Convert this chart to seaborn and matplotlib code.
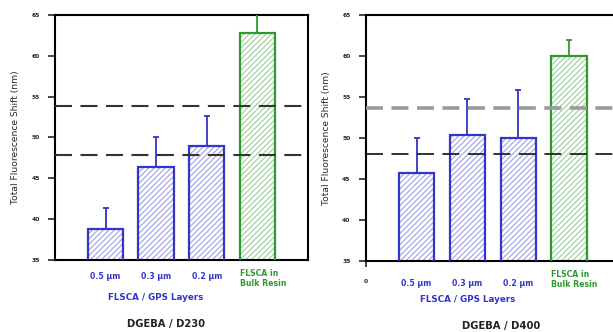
import numpy as np
import pandas as pd
import matplotlib
matplotlib.use("Agg")
import matplotlib.pyplot as plt
import matplotlib.transforms as mtransforms
import seaborn as sns

# values
categories = ["0.5 µm", "0.3 µm", "0.2 µm", "FLSCA in\nBulk Resin"]
d230_shift = [38.8, 46.4, 49.0, 62.8]
d230_err = [2.6, 3.6, 3.6, 2.6]
d400_shift = [45.7, 50.4, 50.0, 60.0]
d400_err = [4.3, 4.4, 5.8, 2.0]
d230_lines = [53.8, 47.85]
d400_lines = [53.7, 48.0]
yticks = [35, 40, 45, 50, 55, 60, 65]

BLUE = "#3434c8"
GREEN = "#2e9a2e"
HATCH_BLUE = "#a0a0e6"
HATCH_GREEN = "#98d098"

sns.set_style("white")
plt.rcParams["font.family"] = ["DejaVu Sans"]
plt.rcParams["font.weight"] = "bold"
plt.rcParams["hatch.linewidth"] = 0.8


def draw_panel(ax, values, errs, lines, line_styles, zero_tick=False):
    df = pd.DataFrame({"layer": categories, "shift": values})
    edge_cols = [BLUE, BLUE, BLUE, GREEN]
    hatch_cols = [HATCH_BLUE, HATCH_BLUE, HATCH_BLUE, HATCH_GREEN]

    # hatched fill
    sns.barplot(data=df, x="layer", y="shift", hue="layer", palette=["white"] * 4,
                legend=False, width=0.7, ax=ax, zorder=2)
    for patch, hc in zip(ax.patches, hatch_cols):
        patch.set_hatch("//////")
        patch.set_edgecolor(hc)
        patch.set_linewidth(0)
    # outline
    n = len(ax.patches)
    sns.barplot(data=df, x="layer", y="shift", hue="layer", palette=["white"] * 4,
                legend=False, width=0.7, ax=ax, zorder=3)
    for patch, ec in zip(ax.patches[n:], edge_cols):
        patch.set_facecolor("none")
        patch.set_edgecolor(ec)
        patch.set_linewidth(1.6)

    for i, (v, e, c) in enumerate(zip(values, errs, edge_cols)):
        ax.errorbar(i, v, yerr=[[0], [e]], color=c, lw=1.3, capsize=2.5,
                    capthick=1.3, zorder=4)

    for y, (col, lw) in zip(lines, line_styles):
        ax.axhline(y, color=col, lw=lw, dashes=(17 / (lw * 1.39), 8.5 / (lw * 1.39)),
                   zorder=5)

    ax.set_ylim(35, 65)
    ax.set_xlim(-1, 4)
    ax.set_yticks(yticks)
    ax.set_yticklabels([str(t) for t in yticks], fontsize=4.3)
    tick_labels = categories[:3] + [""]
    if zero_tick:
        ax.set_xticks([-1, 0, 1, 2, 3])
        ax.set_xticklabels(["0"] + tick_labels, fontsize=5.6)
    else:
        ax.set_xticks([0, 1, 2, 3])
        ax.set_xticklabels(tick_labels, fontsize=5.6)
    ax.tick_params(axis="y", direction="out", length=5, width=1.2, pad=6, left=True)
    ax.tick_params(axis="x", direction="out", length=0, pad=9)
    if zero_tick:
        ax.tick_params(axis="x", length=4, width=1.2, bottom=True)
        for t in ax.xaxis.get_major_ticks()[1:]:
            t.tick1line.set_visible(False)
        ax.get_xticklabels()[0].set_fontsize(4.3)
    for lab in ax.get_xticklabels()[-4:]:
        lab.set_color(BLUE)
    ax.set_xlabel("")
    ax.set_ylabel("Total Fluorescence Shift (nm)", fontsize=6.6, labelpad=8)
    for s in ax.spines.values():
        s.set_visible(True)
        s.set_color("black")
        s.set_linewidth(1.5)

    trans = mtransforms.blended_transform_factory(ax.transData, ax.transAxes)
    # bulk resin label, left aligned with its bar
    ax.text(3 - 0.35, -0.035, categories[3], color=GREEN, fontsize=5.6,
            ha="left", va="top", linespacing=1.25, transform=trans)
    ax.text(1, -0.155, "FLSCA / GPS Layers", color=BLUE, fontsize=6.3,
            ha="center", va="center", transform=trans)
    return trans


fig = plt.figure(figsize=(6.13, 3.32), dpi=100)
ax1 = fig.add_axes([0.0897, 0.2169, 0.4127, 0.738])
ax2 = fig.add_axes([0.5966, 0.2139, 0.4149, 0.741])

t1 = draw_panel(ax1, d230_shift, d230_err, d230_lines,
                [("#333333", 1.5), ("#333333", 1.5)])
ax1.text(1.2, -0.262, "DGEBA / D230", fontsize=7.2, ha="center", va="center",
         color="#222222", transform=t1)

t2 = draw_panel(ax2, d400_shift, d400_err, d400_lines,
                [("#9a9a9a", 2.6), ("#222222", 1.3)], zero_tick=True)
ax2.text(1.66, -0.265, "DGEBA / D400", fontsize=7.2, ha="center", va="center",
         color="#222222", transform=t2)

fig.savefig("out.png", dpi=100)
